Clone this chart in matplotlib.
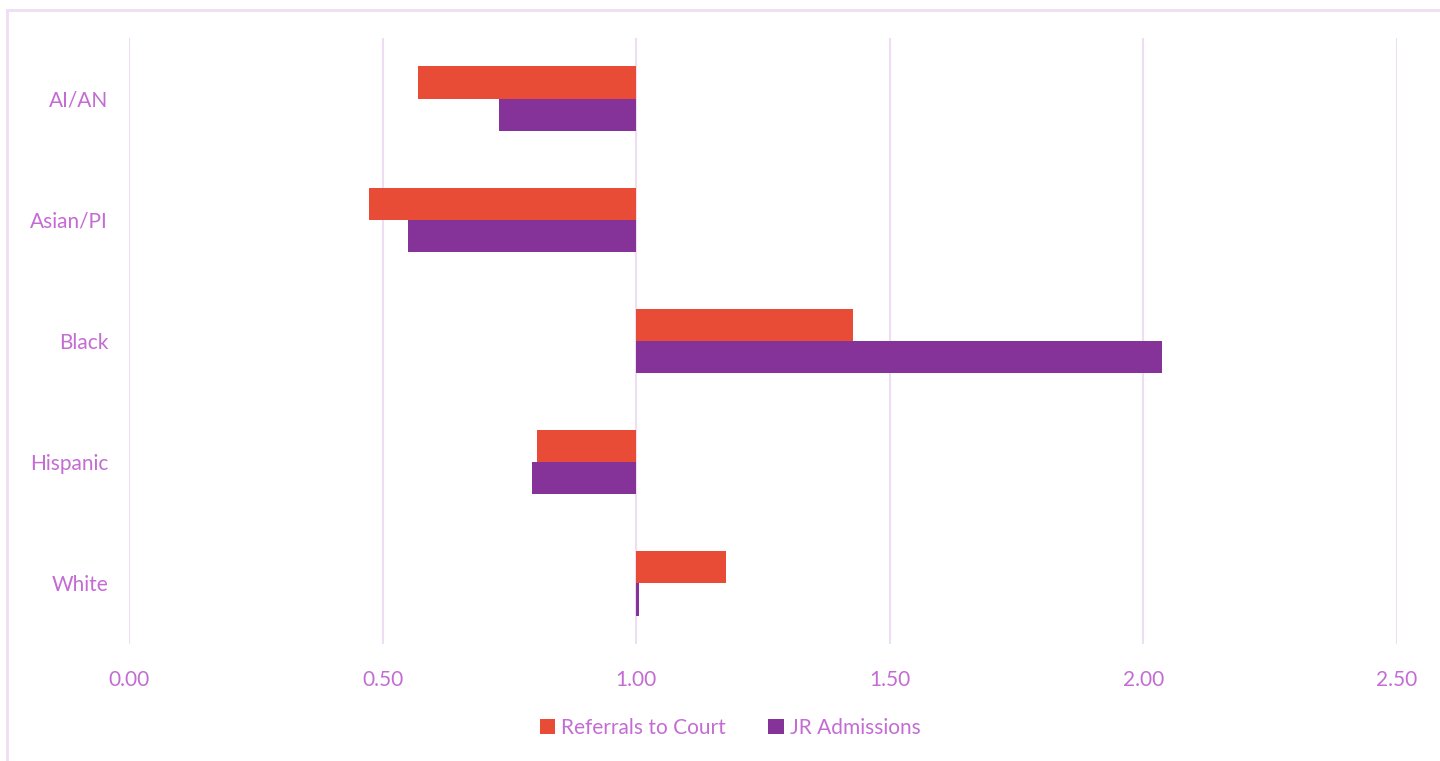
import numpy as np
import matplotlib.pyplot as plt
from matplotlib.patches import Rectangle

categories = ["AI/AN", "Asian/PI", "Black", "Hispanic", "White"]
referrals = [0.57, 0.473, 1.427, 0.804, 1.177]
jr_admissions = [0.729, 0.55, 2.037, 0.795, 1.006]
x_ticks = [0.0, 0.5, 1.0, 1.5, 2.0, 2.5]

RED = "#E84C37"
PURPLE = "#853399"
TEXT = "#C46CD4"
GRID = "#EEDDF3"

plt.rcParams["font.family"] = ["Lato", "DejaVu Sans"]

fig = plt.figure(figsize=(14.4, 7.61), dpi=100)
ax = fig.add_axes([129 / 1440, 1 - 644 / 761, (1397 - 129) / 1440, (644 - 38) / 761])

y = np.arange(len(categories))
h = 0.265
base = 1.0
ax.barh(y - h / 2, np.array(referrals) - base, left=base, height=h, color=RED, label="Referrals to Court", zorder=3)
ax.barh(y + h / 2, np.array(jr_admissions) - base, left=base, height=h, color=PURPLE, label="JR Admissions", zorder=3)

ax.set_xlim(0, 2.5)
ax.set_ylim(len(categories) - 0.5, -0.5)
ax.set_xticks(x_ticks)
ax.set_xticklabels([f"{t:.2f}" for t in x_ticks])
ax.set_yticks(y)
ax.set_yticklabels(categories)
ax.grid(axis="x", color=GRID, linewidth=1.5, zorder=0)
ax.tick_params(length=0, colors=TEXT, labelsize=15)
ax.tick_params(axis="x", pad=19)
ax.tick_params(axis="y", pad=15)
for s in ax.spines.values():
    s.set_visible(False)

fig.legend(loc="center", bbox_to_anchor=(0.507, 1 - 728 / 761), ncol=2, frameon=False,
           fontsize=15, labelcolor=TEXT, handlelength=0.75, handleheight=0.75,
           handletextpad=0.3, columnspacing=2.0)

# outer chart frame
fig.patches.append(Rectangle((7 / 1440, -0.01), 1.02, 1 - 10 / 761 + 0.01,
                             transform=fig.transFigure, fill=False,
                             edgecolor=GRID, linewidth=2))

fig.savefig("out.png", dpi=100)
